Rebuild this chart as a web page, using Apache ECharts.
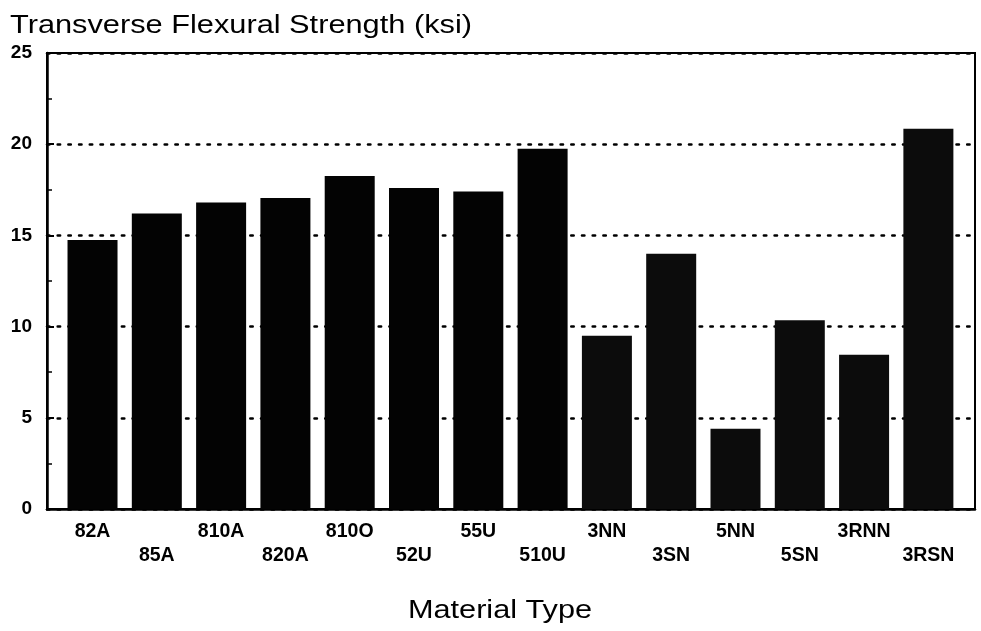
<!DOCTYPE html>
<html>
<head>
<meta charset="utf-8">
<script src="https://cdn.jsdelivr.net/npm/echarts@6/dist/echarts.min.js"></script>
<style>html,body{margin:0;padding:0;background:#fff;}#c{width:981px;height:631px;}</style>
</head>
<body>
<div id="c"></div>
<script>
const categories = ['82A','85A','810A','820A','810O','52U','55U','510U','3NN','3SN','5NN','5SN','3RNN','3RSN'];
const strength = [14.75, 16.2, 16.8, 17.05, 18.25, 17.6, 17.4, 19.75, 9.5, 14.0, 4.4, 10.35, 8.45, 20.85];
const group = ['A','A','A','A','A','A','A','A','N','N','N','N','N','N'];
const yTicks = [0, 5, 10, 15, 20, 25];

const colors = {A: '#030303', N: '#0c0c0c'};
const chart = echarts.init(document.getElementById('c'), null, {renderer: 'canvas'});
const font = 'Liberation Sans, Arial, Helvetica, sans-serif';

chart.setOption({
  backgroundColor: '#ffffff',
  animation: false,
  graphic: [{
    type: 'text', x: 10, y: 26, scaleX: 1.23,
    style: {text: 'Transverse Flexural Strength (ksi)', fontFamily: font, fontSize: 25, fill: '#000',
            textAlign: 'left', textVerticalAlign: 'middle'}
  }, {
    type: 'text', x: 500, y: 611, scaleX: 1.18,
    style: {text: 'Material Type', fontFamily: font, fontSize: 26, fill: '#000',
            textAlign: 'center', textVerticalAlign: 'middle'}
  }],
  grid: {left: 47, right: 6, top: 53, bottom: 122, show: true,
         borderColor: '#000', borderWidth: 2, backgroundColor: 'transparent'},
  xAxis: {
    type: 'value', min: -0.708, max: 13.725,
    axisLine: {show: true, onZero: false, lineStyle: {color: '#000', width: 2.5}},
    axisTick: {show: false},
    splitLine: {show: false},
    axisLabel: {
      customValues: categories.map((_, i) => i),
      formatter: v => (v % 2 === 1 ? '\n' : '') + categories[v],
      fontFamily: font, fontSize: 19.5, fontWeight: 'bold', color: '#000',
      lineHeight: 24, margin: 11, verticalAlign: 'top'
    }
  },
  yAxis: {
    type: 'value', min: yTicks[0], max: yTicks[yTicks.length - 1], interval: 5,
    axisLine: {show: true, onZero: false, lineStyle: {color: '#000', width: 2.5}},
    axisTick: {show: true, inside: true, length: 7, lineStyle: {color: '#000', width: 2}},
    minorTick: {show: true, splitNumber: 2, length: 5, lineStyle: {color: '#000', width: 1.5}},
    splitLine: {show: true, lineStyle: {color: '#000', width: 2.6, type: [2.4, 8.3], cap: 'round'}},
    axisLabel: {fontFamily: font, fontSize: 19, fontWeight: 'bold', color: '#000', margin: 15}
  },
  series: [{
    type: 'bar',
    barWidth: 50,
    data: strength.map((v, i) => ({value: [i, v], itemStyle: {color: colors[group[i]]}})),
    z: 3
  }]
});
</script>
</body>
</html>
